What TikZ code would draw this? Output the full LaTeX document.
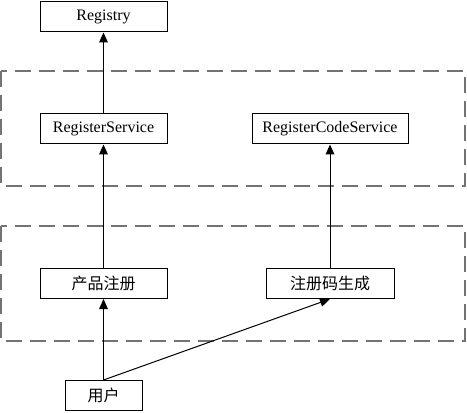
\documentclass[tikz,border=0pt]{standalone}
\usepackage{fontspec}
\setmainfont{Liberation Serif}
\newfontfamily\cjk{Noto Sans CJK SC}
\usetikzlibrary{arrows.meta}

\begin{document}
\begin{tikzpicture}[x=0.75pt, y=-0.75pt]

        % 0. Fix the drawing area (pixel grid of the original, y pointing down)
        \useasboundingbox (0,0) rectangle (467,413);

        % 1. Styles for boxes, groups and arrows
        \tikzset{
            svcbox/.style={draw=black, line width=0.75pt, rectangle, fill=white,
                minimum height=22.5pt, inner sep=0pt, font=\fontsize{12pt}{14pt}\selectfont},
            cnbox/.style={svcbox, font=\cjk\fontsize{12pt}{14pt}\selectfont},
            groupbox/.style={draw=black!55, line width=1.1pt, dash pattern=on 12pt off 6pt},
            uses/.style={draw=black, line width=0.75pt, -{Triangle[length=7.5pt, width=6.5pt]}}
        }

        % 2. Dashed group frames
        \coordinate (GroupTopNW) at (1, 71);
        \coordinate (GroupTopSE) at (465, 186);
        \coordinate (GroupBotNW) at (1, 226);
        \coordinate (GroupBotSE) at (465, 341);
        \draw[groupbox] (GroupTopNW) rectangle (GroupTopSE);
        \draw[groupbox] (GroupBotNW) rectangle (GroupBotSE);

        % 3. Boxes
        \node[svcbox, minimum width=95.25pt] (Registry) at (103.5, 17) {Registry};
        \node[svcbox, minimum width=95.25pt] (RegService) at (103.5, 129) {RegisterService};
        \node[svcbox, minimum width=117pt] (RegCodeService) at (330, 129) {RegisterCodeService};
        \node[cnbox, minimum width=95.25pt] (ProductReg) at (103.5, 283.5) {产品注册};
        \node[cnbox, minimum width=96pt] (CodeGen) at (330, 283.5) {注册码生成};
        \node[cnbox, minimum width=57.75pt] (User) at (103.5, 395.5) {用户};

        % 4. Dependencies
        \draw[uses] (RegService) -- (Registry);
        \draw[uses] (ProductReg) -- (RegService);
        \draw[uses] (CodeGen) -- (RegCodeService);
        \draw[uses] (User) -- (ProductReg);
        \draw[uses] (User.north) -- (CodeGen.south);

    \end{tikzpicture}
\end{document}
